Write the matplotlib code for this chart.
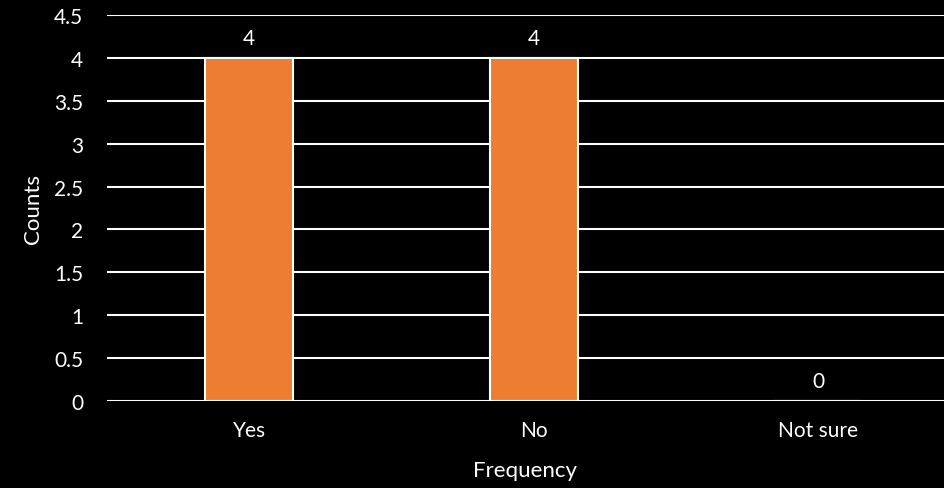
import matplotlib.pyplot as plt
import numpy as np

categories = ["Yes", "No", "Not sure"]
counts = [4, 4, 0]
yticks = [0, 0.5, 1, 1.5, 2, 2.5, 3, 3.5, 4, 4.5]
ytick_labels = ["0", "0.5", "1", "1.5", "2", "2.5", "3", "3.5", "4", "4.5"]

plt.rcParams['font.family'] = ['Lato', 'DejaVu Sans']

fig = plt.figure(figsize=(9.44, 4.89), dpi=100, facecolor='black')
ax = fig.add_axes([0.1133, 0.1779, 0.8867, 0.7894])
ax.set_facecolor('black')

x = np.arange(len(categories))
ax.set_axisbelow(True)
ax.yaxis.grid(True, color='white', linewidth=1.5)
bars = ax.bar(x, counts, width=0.31, color='#ED7D31', edgecolor='white', linewidth=1.5, zorder=3)

for xi, c in zip(x, counts):
    ax.annotate(str(c), (xi, c), xytext=(0, 7), textcoords='offset points',
                ha='center', va='bottom', color='white', fontsize=15)

ax.set_xlim(-0.5, 2.442)
ax.set_ylim(0, 4.5)
ax.set_yticks(yticks)
ax.set_yticklabels(ytick_labels)
ax.set_xticks(x)
ax.set_xticklabels(categories)
ax.tick_params(axis='both', length=0, colors='white', labelsize=15)
ax.tick_params(axis='y', pad=17)
ax.tick_params(axis='x', pad=14)
for s in ax.spines.values():
    s.set_visible(False)

ax.set_ylabel("Counts", color='white', fontsize=16, va='center')
ax.set_xlabel("Frequency", color='white', fontsize=16, va='center')
ax.yaxis.set_label_coords(-0.088, 0.5)
ax.xaxis.set_label_coords(0.5, -0.179)

fig.savefig("out.png", dpi=100, facecolor='black')
